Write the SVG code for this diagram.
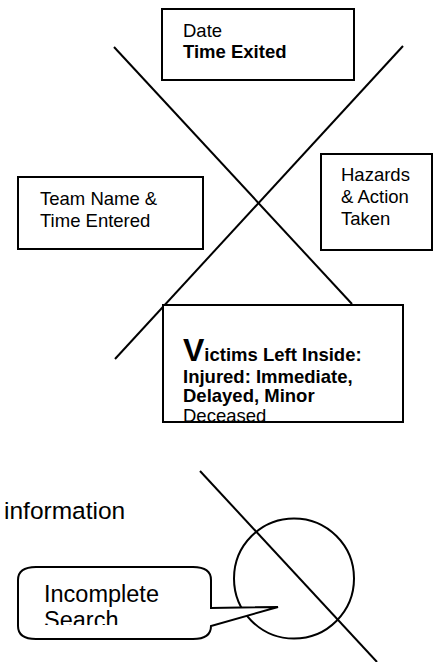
<svg xmlns="http://www.w3.org/2000/svg" width="446" height="662" viewBox="0 0 446 662">
<style>
.box{fill:#fff;stroke:#000;stroke-width:2}
.ln{stroke:#000;stroke-width:2;fill:none}
text{font-family:"Liberation Sans",Arial,sans-serif;fill:#000}
.t{font-size:18.5px}
.b{font-weight:bold}
.lg{font-size:23.5px}
</style>
<defs>
<clipPath id="cv"><rect x="163" y="306" width="240" height="115"/></clipPath>
<clipPath id="cs"><rect x="18" y="567" width="193" height="58"/></clipPath>
</defs>
<g id="connectors">
<line class="ln" x1="114" y1="47" x2="352" y2="304"/>
<line class="ln" x1="403" y1="46" x2="115" y2="359"/>
<line class="ln" x1="200" y1="471" x2="377" y2="662"/>
</g>
<g id="date">
<rect class="box" x="162" y="9" width="192" height="71"/>
<text class="t" x="183" y="37">Date</text>
<text class="t b" x="183" y="58">Time Exited</text>
</g>
<g id="team">
<rect class="box" x="18" y="177" width="185" height="72"/>
<text class="t" x="40" y="205">Team Name &amp;</text>
<text class="t" x="40" y="227">Time Entered</text>
</g>
<g id="hazards">
<rect class="box" x="321" y="154" width="111" height="96"/>
<text class="t" x="341" y="181">Hazards</text>
<text class="t" x="341" y="203">&amp; Action</text>
<text class="t" x="341" y="225">Taken</text>
</g>
<g id="victims">
<rect class="box" x="163" y="305" width="240" height="117"/>
<g clip-path="url(#cv)">
<text class="t b" x="183" y="361"><tspan font-size="32">V</tspan>ictims Left Inside:</text>
<text class="t b" x="183" y="383">Injured: Immediate,</text>
<text class="t b" x="183" y="402">Delayed, Minor</text>
<text class="t" x="183" y="422">Deceased</text>
</g>
</g>
<g id="info">
<text class="lg" x="4" y="519" style="font-size:24.5px">information</text>
</g>
<g id="circle">
<circle class="ln" cx="294" cy="578.5" r="60"/>
</g>
<g id="callout">
<path class="box" d="M36,567 H193 Q211,567 211,580 V608 L278,607 L211,626 Q211,639 193,639 H36 Q18,639 18,626 V580 Q18,567 36,567 Z"/>
<text class="lg" x="44" y="602">Incomplete</text>
<text class="lg" x="44" y="628" clip-path="url(#cs)">Search</text>
</g>
</svg>
